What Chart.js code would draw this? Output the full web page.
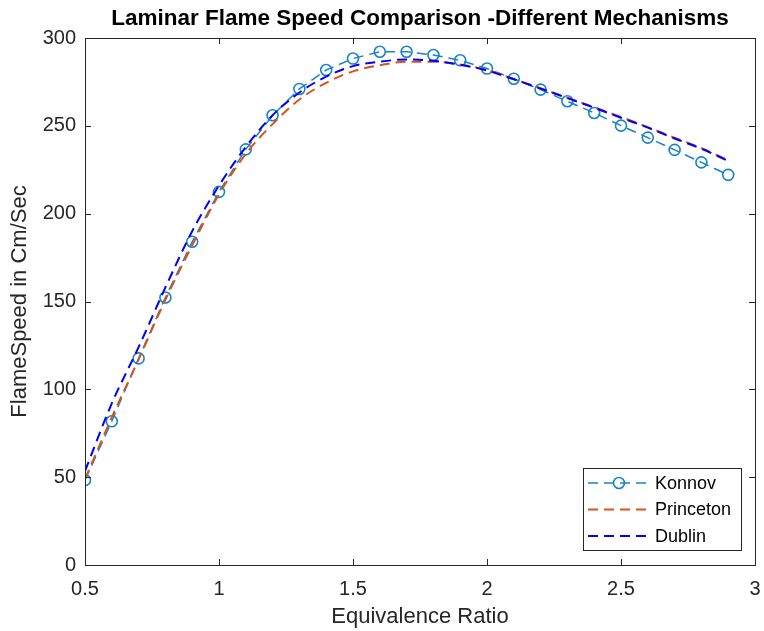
<!DOCTYPE html>
<html>
<head>
<meta charset="utf-8">
<script src="https://cdn.jsdelivr.net/npm/chart.js@4.4.1/dist/chart.umd.min.js"></script>
<style>
  html, body { margin: 0; padding: 0; background: #ffffff; }
  #wrap { width: 764px; height: 631px; position: relative; }
</style>
</head>
<body>
<div id="wrap"><canvas id="c" width="764" height="631"></canvas></div>
<script>
// ---- data ----
const ratios = [0.5,0.6,0.7,0.8,0.9,1.0,1.1,1.2,1.3,1.4,1.5,1.6,1.7,1.8,1.9,2.0,2.1,2.2,2.3,2.4,2.5,2.6,2.7,2.8,2.9];
const konnov = [48.3,81.8,117.6,152.3,184,212.4,236.6,256,271,281.8,288.3,292.2,292.2,290.3,287.3,282.6,276.8,270.6,264,257.3,250.1,243.3,236.3,229.2,222.1];
const princeton = [49,84,117,151,182,211,234,251,265,274.5,281,284.5,286.5,286.5,284.8,281.8,276.6,271.4,266,260.6,255,249.3,243.2,237.3,230.5];
const dublin = [53.5,92,124,158,190,216,238,256,269,278,284,286.5,287.8,287,284.8,281.5,276.5,271.2,265.8,260.3,254.6,249,242.8,237,230];
const seriesNames = ['Konnov','Princeton','Dublin'];
const xTicks = [0.5,1,1.5,2,2.5,3];
const yTicks = [0,50,100,150,200,250,300];

const toXY = arr => arr.map((v,i) => ({x: ratios[i], y: v}));
const FONT = "'Liberation Sans', Arial, Helvetica, sans-serif";
const TXT = '#262626';

const decor = {
  id: 'decor',
  afterDatasetsDraw(chart) {
    const {ctx, chartArea: a, scales} = chart;
    ctx.save();
    ctx.strokeStyle = TXT;
    ctx.lineWidth = 1;
    ctx.setLineDash([]);
    ctx.strokeRect(Math.round(a.left)+0.5, Math.round(a.top)+0.5, Math.round(a.right-a.left), Math.round(a.bottom-a.top));
    const tl = 6;
    ctx.beginPath();
    scales.x.ticks.forEach(t => {
      const px = Math.round(scales.x.getPixelForValue(t.value)) + 0.5;
      ctx.moveTo(px, a.bottom); ctx.lineTo(px, a.bottom - tl);
      ctx.moveTo(px, a.top); ctx.lineTo(px, a.top + tl);
    });
    scales.y.ticks.forEach(t => {
      const py = Math.round(scales.y.getPixelForValue(t.value)) + 0.5;
      ctx.moveTo(a.left, py); ctx.lineTo(a.left + tl, py);
      ctx.moveTo(a.right, py); ctx.lineTo(a.right - tl, py);
    });
    ctx.stroke();

    // legend box (inside chart area, bottom right)
    const bx = 583, by = 468, bw = 158, bh = 82;
    ctx.fillStyle = '#ffffff';
    ctx.fillRect(bx, by, bw, bh);
    ctx.strokeStyle = TXT;
    ctx.strokeRect(bx + 0.5, by + 0.5, bw, bh);
    const rows = [483, 509.5, 536];
    chart.data.datasets.forEach((ds, i) => {
      const y = rows[i];
      ctx.strokeStyle = ds.borderColor;
      ctx.lineWidth = ds.borderWidth;
      ctx.setLineDash(ds.borderDash || []);
      ctx.beginPath();
      ctx.moveTo(588, y); ctx.lineTo(650, y);
      ctx.stroke();
      ctx.setLineDash([]);
      if (ds.pointRadius > 0) {
        ctx.lineWidth = ds.pointBorderWidth;
        ctx.beginPath();
        ctx.arc(619, y, ds.pointRadius, 0, Math.PI * 2);
        ctx.stroke();
      }
      ctx.fillStyle = '#000000';
      ctx.font = '18px ' + FONT;
      ctx.textBaseline = 'middle';
      ctx.textAlign = 'left';
      ctx.fillText(ds.label, 655, y + 1);
    });
    ctx.restore();
  }
};

new Chart(document.getElementById('c'), {
  type: 'line',
  data: {
    datasets: [
      { label: seriesNames[0], data: toXY(konnov), borderColor: '#1884C6', borderWidth: 1.5,
        borderDash: [10, 6], pointStyle: 'circle', pointRadius: 5.5, pointBorderWidth: 1.6,
        pointBorderColor: '#1884C6', pointBackgroundColor: 'rgba(0,0,0,0)', tension: 0, order: 3 },
      { label: seriesNames[1], data: toXY(princeton), borderColor: '#D95319', borderWidth: 2,
        borderDash: [10, 6], pointRadius: 0, cubicInterpolationMode: 'monotone', order: 2 },
      { label: seriesNames[2], data: toXY(dublin), borderColor: '#0000FF', borderWidth: 2,
        borderDash: [10, 6], pointRadius: 0, cubicInterpolationMode: 'monotone', order: 1 }
    ]
  },
  options: {
    responsive: false,
    animation: false,
    layout: { padding: { left: 0, right: 9, top: 0, bottom: 0 } },
    plugins: {
      legend: { display: false },
      tooltip: { enabled: false },
      title: {
        display: true, fullSize: false,
        text: 'Laminar Flame Speed Comparison -Different Mechanisms',
        color: '#000000',
        font: { family: FONT, size: 22.5, weight: 'bold' },
        padding: { top: 5, bottom: 6 }
      }
    },
    scales: {
      x: {
        type: 'linear', min: 0.5, max: 3,
        afterBuildTicks: s => { s.ticks = xTicks.map(v => ({value: v})); },
        afterFit: s => { s.height = 66; s.paddingLeft = 0; s.paddingRight = 0; },
        grid: { display: false, drawTicks: false },
        border: { display: true, color: TXT },
        ticks: { color: TXT, font: { family: FONT, size: 20 }, padding: 12, maxRotation: 0,
                 callback: v => String(v) },
        title: { display: true, text: 'Equivalence Ratio', color: TXT,
                 font: { family: FONT, size: 22 }, padding: { top: 0, bottom: 1 } }
      },
      y: {
        type: 'linear', min: 0, max: 300,
        afterBuildTicks: s => { s.ticks = yTicks.map(v => ({value: v})); },
        afterFit: s => { s.width = 85; s.paddingTop = 0; s.paddingBottom = 0; },
        grid: { display: false, drawTicks: false },
        border: { display: true, color: TXT },
        ticks: { color: TXT, font: { family: FONT, size: 20 }, padding: 9,
                 callback: v => String(v) },
        title: { display: true, text: 'FlameSpeed in Cm/Sec', color: TXT,
                 font: { family: FONT, size: 22 }, padding: { top: 7, bottom: 0 } }
      }
    }
  },
  plugins: [decor]
});
</script>
</body>
</html>
